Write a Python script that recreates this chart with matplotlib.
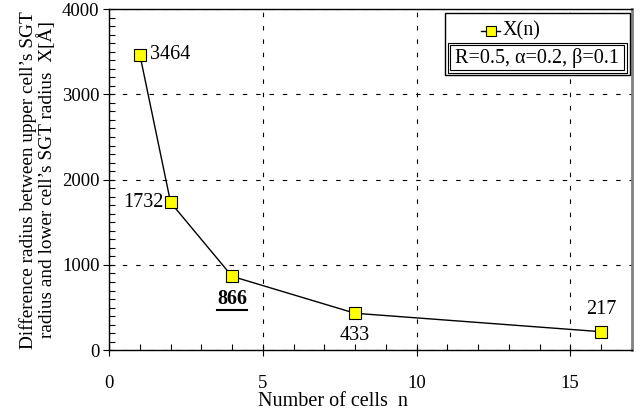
import matplotlib
matplotlib.use("Agg")
import matplotlib.pyplot as plt
from matplotlib.patches import Rectangle
from matplotlib.lines import Line2D
from matplotlib.ticker import MultipleLocator

cells = [1, 2, 4, 8, 16]
radius_diff = [3464, 1732, 866, 433, 217]
point_labels = ["3464", "1732", "866", "433", "217"]
series_name = "X(n)"
param_text = "R=0.5, α=0.2, β=0.1"

plt.rcParams["font.family"] = ["Liberation Serif", "DejaVu Serif"]
plt.rcParams["font.size"] = 14.5

fig = plt.figure(figsize=(6.42, 4.12), dpi=100)
ax = fig.add_axes([0.170, 0.150, 0.814, 0.828])

ax.plot(cells, radius_diff, color="black", lw=1.0, marker="s", ms=8.5,
        mfc="yellow", mec="black", mew=0.8, zorder=3)

ax.set_xlim(0, 17)
ax.set_ylim(0, 4000)
ax.xaxis.set_major_locator(MultipleLocator(5))
ax.xaxis.set_minor_locator(MultipleLocator(1))
ax.yaxis.set_major_locator(MultipleLocator(1000))
ax.yaxis.set_minor_locator(MultipleLocator(100))
ax.tick_params(which="major", direction="inout", length=8, width=0.8,
               labelsize=13.5)
ax.tick_params(which="minor", direction="in", length=4, width=0.8)
ax.tick_params(axis="x", which="major", pad=14)
ax.tick_params(axis="y", which="major", pad=3)
ax.grid(True, which="major", color="black", ls=(0, (4, 8)), lw=0.8)

for s in ["left", "bottom", "top"]:
    ax.spines[s].set_linewidth(1.0)
ax.spines["right"].set_color("#808080")
ax.spines["right"].set_linewidth(2.0)

ax.set_xlabel("Number of cells  n", labelpad=0, x=0.428)
ax.set_ylabel("Difference radius between upper cell’s SGT\n"
              "radius and lower cell’s SGT radius  X[Å]", labelpad=4,
              linespacing=1.0, fontsize=13.9)

# point labels
offsets = [(7, 0, "left", "center"), (-5, 0, "right", "center"),
           (0, -9, "center", "top"), (0, -9, "center", "top"),
           (0, 9, "center", "bottom")]
texts = []
for x, y, lab, (dx, dy, ha, va) in zip(cells, radius_diff, point_labels, offsets):
    t = ax.annotate(lab, (x, y), xytext=(dx, dy), textcoords="offset points",
                    ha=ha, va=va, fontsize=14.5)
    texts.append(t)
texts[2].set_fontweight("bold")

# legend box
ax.add_patch(Rectangle((0.642, 0.806), 0.354, 0.182, transform=ax.transAxes,
                       facecolor="white", edgecolor="black", lw=1.0, zorder=5))
ax.add_line(Line2D([0.712, 0.748], [0.935, 0.935], transform=ax.transAxes,
                   color="black", lw=1.0, zorder=6))
ax.plot([0.730], [0.935], transform=ax.transAxes, marker="s", ms=7,
        mfc="yellow", mec="black", mew=0.8, zorder=7, clip_on=False)
ax.text(0.752, 0.935, series_name, transform=ax.transAxes, ha="left",
        va="center", fontsize=14.5, zorder=7)
ax.add_patch(Rectangle((0.648, 0.814), 0.342, 0.086, transform=ax.transAxes,
                       facecolor="white", edgecolor="black", lw=0.8, zorder=6))
ax.add_patch(Rectangle((0.652, 0.820), 0.334, 0.074, transform=ax.transAxes,
                       facecolor="none", edgecolor="black", lw=0.8, zorder=6))
ax.text(0.819, 0.857, param_text, transform=ax.transAxes, ha="center",
        va="center", fontsize=14.5, zorder=7)

# underline for bold label
fig.canvas.draw()
bb = texts[2].get_window_extent().transformed(fig.transFigure.inverted())
fig.add_artist(Line2D([bb.x0, bb.x1], [bb.y0 - 0.004, bb.y0 - 0.004],
                      transform=fig.transFigure, color="black", lw=1.5))

fig.savefig("out.png", dpi=100)
